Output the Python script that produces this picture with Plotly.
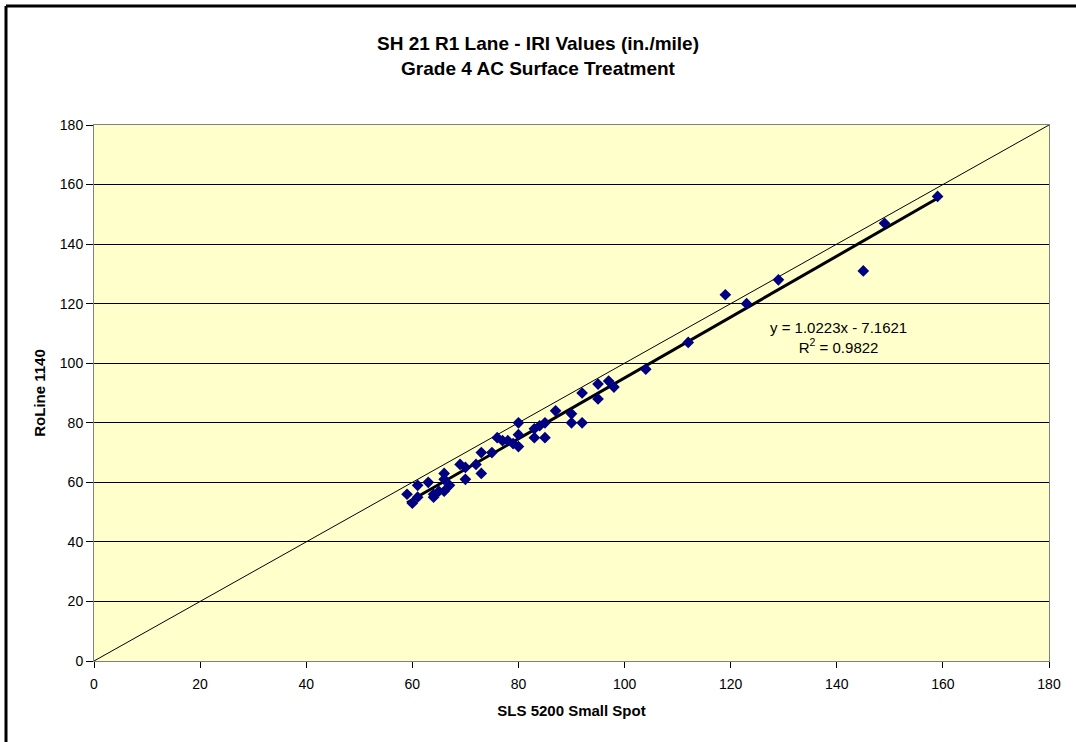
import plotly.graph_objects as go

sls_5200 = [59, 60, 61, 61, 63, 64, 64, 65, 66, 66, 66, 67, 69, 70, 70, 72, 73, 73, 75, 76,
            77, 78, 79, 80, 80, 80, 83, 83, 84, 85, 85, 87, 90, 90, 92, 92, 95, 95, 97, 98,
            104, 112, 119, 123, 129, 145, 149, 159]
roline_1140 = [56, 53, 59, 55, 60, 56, 55, 57, 57, 63, 61, 59, 66, 65, 61, 66, 70, 63, 70, 75,
               74, 74, 73, 80, 76, 72, 78, 75, 79, 75, 80, 84, 83, 80, 80, 90, 93, 88, 94, 92,
               98, 107, 123, 120, 128, 131, 147, 156]
slope, intercept = 1.0223, -7.1621
r_squared = 0.9822
axis_max = 180
ticks = list(range(0, 181, 20))

font = "Arial, 'Liberation Sans', sans-serif"
L, R, T, B = 94, 27, 125, 81
W, H = 1076, 742
pw, ph = W - L - R, H - T - B

fig = go.Figure()
# 1:1 line
fig.add_trace(go.Scatter(x=[0, axis_max], y=[0, axis_max], mode="lines",
                         line=dict(color="black", width=1), hoverinfo="skip", showlegend=False))
# trendline
x0, x1 = min(sls_5200), max(sls_5200)
fig.add_trace(go.Scatter(x=[x0, x1], y=[slope * x0 + intercept, slope * x1 + intercept], mode="lines",
                         line=dict(color="black", width=3), hoverinfo="skip", showlegend=False))
fig.add_trace(go.Scatter(x=sls_5200, y=roline_1140, mode="markers",
                         marker=dict(symbol="diamond", size=9, color="#000080"),
                         showlegend=False))

bx = (6 - L) / pw
by = 1 + (T - 6) / ph
fig.update_layout(
    width=W, height=H,
    margin=dict(l=L, r=R, t=T, b=B),
    paper_bgcolor="white", plot_bgcolor="#FFFFCC",
    font=dict(family=font, size=14, color="black"),
    title=dict(text="<b>SH 21 R1 Lane - IRI Values (in./mile)<br>Grade 4 AC Surface Treatment</b>",
               x=0.5, xanchor="center", y=1 - 50 / H, yanchor="top",
               font=dict(family=font, size=19, color="black")),
    xaxis=dict(range=[0, axis_max], tickvals=ticks, showgrid=False, zeroline=False,
               showline=True, linecolor="#808080", linewidth=1, mirror=True,
               ticks="outside", ticklen=6, tickcolor="black", ticklabelstandoff=4,
               title=dict(text="<b>SLS 5200 Small Spot</b>", font=dict(size=15), standoff=14)),
    yaxis=dict(range=[0, axis_max], tickvals=ticks, showgrid=True, gridcolor="black", gridwidth=1,
               zeroline=False, showline=True, linecolor="#808080", linewidth=1, mirror=True,
               ticks="outside", ticklen=7, tickcolor="black",
               title=dict(text="<b>RoLine 1140</b>", font=dict(size=15), standoff=10)),
    shapes=[
        dict(type="line", xref="paper", yref="paper", x0=bx, x1=bx, y0=-0.5, y1=by,
             line=dict(color="black", width=3)),
        dict(type="line", xref="paper", yref="paper", x0=bx, x1=1.2, y0=by, y1=by,
             line=dict(color="black", width=3)),
    ],
    annotations=[dict(x=0.780, y=0.603, xref="paper", yref="paper", showarrow=False,
                      xanchor="center", yanchor="middle",
                      text=f"y = {slope}x - {abs(intercept)}<br>R<sup>2</sup> = {r_squared}",
                      align="center", font=dict(size=15))],
)

fig.write_html("out.html", config={"displayModeBar": False},
               post_script="document.body.style.margin='0';")
